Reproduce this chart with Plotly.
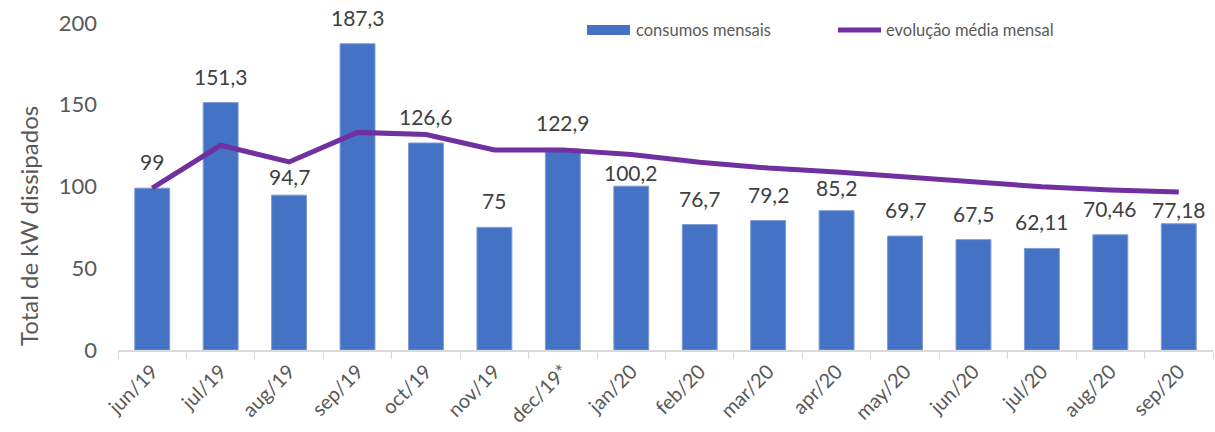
import plotly.graph_objects as go

months = ["jun/19", "jul/19", "aug/19", "sep/19", "oct/19", "nov/19", "dec/19*", "jan/20",
          "feb/20", "mar/20", "apr/20", "may/20", "jun/20", "jul/20", "aug/20", "sep/20"]
consumos = [99, 151.3, 94.7, 187.3, 126.6, 75, 122.9, 100.2, 76.7, 79.2, 85.2, 69.7, 67.5, 62.11, 70.46, 77.18]
labels = ["99", "151,3", "94,7", "187,3", "126,6", "75", "122,9", "100,2", "76,7", "79,2", "85,2",
          "69,7", "67,5", "62,11", "70,46", "77,18"]
media = [99, 125.2, 115.0, 133.1, 131.8, 122.3, 122.4, 119.6, 114.9, 111.3, 108.9, 105.7, 102.7, 99.8, 97.9, 96.6]

FONT = "Lato"
GREY = "#595959"
L, R, T, B, W, H = 118, 2, 23, 82, 1215, 432
pw, ph = W - L - R, H - T - B

# manual label nudges (pixels) as in the original chart
label_nudge = {"aug/19": -8, "jan/20": -13, "sep/20": -12, "apr/20": -3}


def px(x):
    return (x - L) / pw


def py(y):
    return (H - B - y) / ph


fig = go.Figure()
fig.add_trace(go.Bar(x=months, y=consumos, name="consumos mensais", marker_color="#4472C4",
                     marker_line=dict(color="#7d9bd6", width=1), showlegend=False))
fig.add_trace(go.Scatter(x=months, y=media, name="evolução média mensal", mode="lines",
                         line=dict(color="#7030A0", width=5), showlegend=False))

annotations = [dict(x=m, y=v, text=t, showarrow=False, yanchor="bottom",
                    yshift=12 + label_nudge.get(m, 0),
                    font=dict(family=FONT, size=21, color="#404040"))
               for m, v, t in zip(months, consumos, labels)]
annotations += [
    dict(xref="paper", yref="paper", x=px(634), y=py(30), xanchor="left", yanchor="middle",
         text="consumos mensais", showarrow=False, font=dict(family=FONT, size=16.5, color=GREY)),
    dict(xref="paper", yref="paper", x=px(884), y=py(30), xanchor="left", yanchor="middle",
         text="evolução média mensal", showarrow=False, font=dict(family=FONT, size=16.5, color=GREY)),
    dict(xref="paper", yref="paper", x=px(28), y=py(226), xanchor="center", yanchor="middle",
         textangle=-90, text="Total de kW dissipados", showarrow=False,
         font=dict(family=FONT, size=24, color=GREY)),
]
shapes = [
    dict(type="rect", xref="paper", yref="paper", x0=px(587), x1=px(630), y0=py(35), y1=py(25),
         fillcolor="#4472C4", line=dict(width=0)),
    dict(type="line", xref="paper", yref="paper", x0=px(838), x1=px(881), y0=py(30), y1=py(30),
         line=dict(color="#7030A0", width=5)),
]

fig.update_layout(
    width=W, height=H, margin=dict(l=L, r=R, t=T, b=B),
    paper_bgcolor="white", plot_bgcolor="white",
    bargap=0.49, showlegend=False,
    font=dict(family=FONT, color=GREY),
    annotations=annotations, shapes=shapes,
    xaxis=dict(type="category", tickangle=-45, ticks="outside", tickson="boundaries",
               ticklen=7, tickcolor="#d9d9d9", showline=True, linecolor="#d9d9d9", linewidth=2,
               tickfont=dict(family=FONT, size=20, color=GREY)),
    yaxis=dict(range=[0, 200], tickvals=[0, 50, 100, 150, 200], showgrid=False, zeroline=False,
               showline=False, tickfont=dict(family=FONT, size=22, color=GREY),
               ticklabelstandoff=20),
)
fig.write_html("out.html")
